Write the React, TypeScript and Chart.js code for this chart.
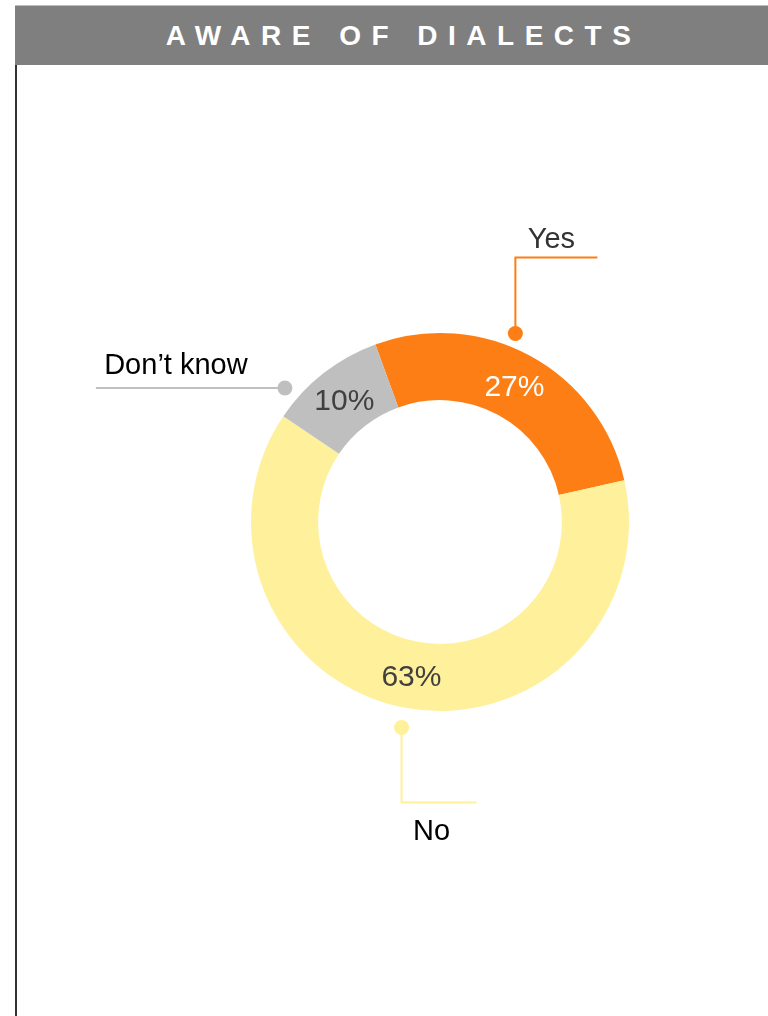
import React, { useEffect, useRef } from "react";
import { Chart, registerables } from "chart.js";

Chart.register(...registerables);

const title = "AWARE OF DIALECTS";
const categories = ["Yes", "No", "Don\u2019t know"];
const values = [27, 63, 10];
const sliceColors = ["#FD7E14", "#FFF09B", "#BFBFBF"];
const percentColors = ["#FFFFFF", "#404040", "#404040"];
const labelColors = ["#333333", "#000000", "#000000"];

// callout styling: where along the slice the dot sits, gap beyond the ring, path
type Seg = [number, number];
const callouts: { frac: number; gap: number; path: Seg[]; label: Seg }[] = [
  { frac: 0.43, gap: 14, path: [[0, -76], [82, 0]], label: [36, -86] },
  { frac: 0.5, gap: 20, path: [[0, 75], [75, 0]], label: [30, 113] },
  { frac: 0.19, gap: 16, path: [[-189, 0]], label: [-109, -14] },
];

const FONT = "'Liberation Sans', Arial, sans-serif";

const calloutPlugin = {
  id: "callouts",
  afterDatasetsDraw(chart: any) {
    const ctx = chart.ctx as CanvasRenderingContext2D;
    const meta = chart.getDatasetMeta(0);
    const total = values.reduce((a, b) => a + b, 0);
    meta.data.forEach((arc: any, i: number) => {
      const { x, y, startAngle, endAngle, outerRadius, innerRadius } = arc.getProps(
        ["x", "y", "startAngle", "endAngle", "outerRadius", "innerRadius"],
        true
      );
      const mid = (startAngle + endAngle) / 2;
      const rm = (outerRadius + innerRadius) / 2;
      ctx.save();
      const pct = Math.round((values[i] / total) * 100) + "%";
      ctx.font = `30px ${FONT}`;
      ctx.fillStyle = percentColors[i];
      ctx.textAlign = "center";
      ctx.textBaseline = "alphabetic";
      ctx.fillText(pct, x + rm * Math.cos(mid), y + rm * Math.sin(mid) + 0.358 * 30);

      const c = callouts[i];
      const a = startAngle + c.frac * (endAngle - startAngle);
      const r = outerRadius + c.gap;
      const dx = x + r * Math.cos(a);
      const dy = y + r * Math.sin(a);
      ctx.strokeStyle = sliceColors[i];
      ctx.fillStyle = sliceColors[i];
      ctx.lineWidth = 2;
      ctx.beginPath();
      ctx.moveTo(dx, dy);
      let px = dx, py = dy;
      c.path.forEach(([sx, sy]) => {
        px += sx;
        py += sy;
        ctx.lineTo(px, py);
      });
      ctx.stroke();
      ctx.beginPath();
      ctx.arc(dx, dy, 7.5, 0, Math.PI * 2);
      ctx.fill();

      ctx.font = `29px ${FONT}`;
      ctx.fillStyle = labelColors[i];
      ctx.textAlign = "center";
      ctx.fillText(categories[i], dx + c.label[0], dy + c.label[1]);
      ctx.restore();
    });
  },
};

export default function App() {
  const ref = useRef<HTMLCanvasElement | null>(null);
  useEffect(() => {
    document.body.style.margin = "0";
    if (!ref.current) return;
    const chart = new Chart(ref.current, {
      type: "doughnut",
      data: {
        labels: categories,
        datasets: [
          {
            data: values,
            backgroundColor: sliceColors,
            borderWidth: 0,
          },
        ],
      },
      options: {
        animation: false,
        responsive: false,
        rotation: -20,
        cutout: "64.5%",
        layout: { padding: { left: 251, right: 139, top: 333, bottom: 305 } },
        plugins: { legend: { display: false }, tooltip: { enabled: false } },
      },
      plugins: [calloutPlugin],
    });
    return () => chart.destroy();
  }, []);

  return (
    <div style={{ position: "relative", width: 768, height: 1016, overflow: "hidden", background: "#fff" }}>
      <canvas ref={ref} width={768} height={1016} style={{ position: "absolute", left: 0, top: 0 }} />
      <div
        style={{
          position: "absolute",
          left: 15,
          top: 5,
          width: 753,
          height: 60,
          background: "#7F7F7F",
          borderTop: "1px solid #BDBDBD",
          boxSizing: "border-box",
          color: "#FFFFFF",
          fontFamily: FONT,
          fontWeight: "bold",
          fontSize: 28,
          letterSpacing: "10.5px",
          lineHeight: "59px",
          textAlign: "center",
          paddingLeft: 24,
          whiteSpace: "nowrap",
        }}
      >
        {title}
      </div>
      <div
        style={{
          position: "absolute",
          left: 15,
          top: 65,
          width: 2,
          height: 951,
          background: "#333333",
        }}
      />
    </div>
  );
}
